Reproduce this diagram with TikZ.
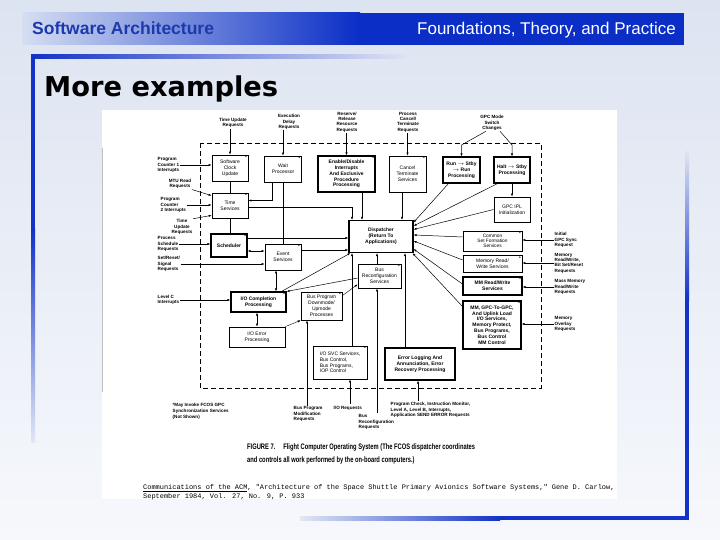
\documentclass[tikz,border=0pt]{standalone}
\usepackage{fontspec}
\setmainfont{Liberation Sans}
\newfontfamily\capfam[FakeStretch=0.72]{Liberation Sans}
\newfontfamily\citefam{Liberation Mono}
\newfontfamily\titlefam{DejaVu Sans}
\usetikzlibrary{arrows.meta}
\definecolor{bgtop}{RGB}{221,228,241}
\definecolor{bgbot}{RGB}{246,248,252}
\definecolor{hdblue}{RGB}{10,46,198}
\definecolor{hdlight}{RGB}{214,222,242}
\definecolor{hdtext}{RGB}{28,58,172}
\definecolor{frblue}{RGB}{18,50,200}
\definecolor{frfade}{RGB}{226,231,244}

\begin{document}
\begin{tikzpicture}[x=1pt,y=-1pt,
  blk/.style={draw,line width=0.7pt,fill=white,align=center,inner sep=1pt,
    font=\fontsize{5}{5.8}\selectfont},
  bblk/.style={blk,line width=1.1pt,font=\fontsize{5}{5.8}\selectfont\bfseries},
  starred/.style={label={[anchor=north east,inner sep=1.2pt,font=\fontsize{5.5}{5}\selectfont]north east:*}},
  lbl/.style={align=left,inner sep=0.5pt,font=\fontsize{4.6}{5.4}\selectfont\bfseries},
  lblc/.style={lbl,align=center},
  flow/.style={-{Latex[length=3pt,width=2.2pt]},line width=0.5pt},
  bflow/.style={{Latex[length=3pt,width=2.2pt]}-{Latex[length=3pt,width=2.2pt]},line width=0.5pt}]
  \useasboundingbox (0,0) rectangle (720,540);
  \shade[top color=bgtop,bottom color=bgbot] (0,0) rectangle (720,540);

  % slide frame
  \shade[left color=hdlight,right color=hdblue] (22,13) rectangle (360,45);
  \fill[hdblue] (359,13) rectangle (684,45);
  \node[anchor=base west,inner sep=0,text=hdtext,font=\bfseries\fontsize{17.5}{20}\selectfont] (hdl) at (32,35) {Software Architecture};
  \node[anchor=base east,inner sep=0,text=white,font=\fontsize{17}{20}\selectfont] (hdr) at (676,35) {Foundations, Theory, and Practice};
  \shade[left color=frblue,right color=frfade] (31,55) rectangle (412,59);
  \fill[frblue] (31,55) rectangle (35,230);
  \shade[top color=frblue,bottom color=frfade] (31,229) rectangle (35,442);
  \shade[top color=frfade,bottom color=frblue] (685,150) rectangle (689,300);
  \fill[frblue] (685,299) rectangle (689,520);
  \shade[left color=frfade,right color=frblue] (300,516) rectangle (500,520);
  \fill[frblue] (499,516) rectangle (689,520);
  \node[anchor=base west,inner sep=0,font=\titlefam\bfseries\fontsize{27.3}{30}\selectfont] (ttl) at (44,97) {More examples};

  % scanned figure
  \fill[white] (102,110) rectangle (617,499);
  \draw[black!25,line width=0.4pt] (102,148) -- (102,392);
  \draw[line width=0.6pt,dash pattern=on 5pt off 3pt] (200,143) rectangle (541,388);

  \node[blk,starred,minimum width=36pt,minimum height=26pt] (clock) at (230,168) {Software\\Clock\\Update};
  \node[blk,starred,minimum width=37pt,minimum height=26pt] (wait) at (283,169) {Wait\\Processor};
  \node[bblk,starred,minimum width=57pt,minimum height=36pt] (enable) at (346.5,174) {Enable/Disable\\Interrupts\\And Exclusive\\Procedure\\Processing};
  \node[blk,starred,minimum width=37pt,minimum height=36pt] (cancel) at (407.5,174) {Cancel\\Terminate\\Services};
  \node[bblk,minimum width=37pt,minimum height=26pt] (run) at (461.5,170) {Run $\rightarrow$ Stby\\$\rightarrow$ Run\\Processing};
  \node[bblk,minimum width=36pt,minimum height=26pt] (halt) at (512,170) {Halt $\rightarrow$ Stby\\Processing};
  \node[blk,starred,minimum width=36pt,minimum height=25pt] (time) at (230,205.5) {Time\\Services};
  \node[blk,minimum width=36pt,minimum height=25pt] (ipl) at (512,209.5) {GPC IPL\\Initialization};
  \node[bblk,minimum width=64pt,minimum height=32pt] (disp) at (381,236.5) {Dispatcher\\(Return To\\Applications)};
  \node[bblk,starred,minimum width=36pt,minimum height=23pt] (sched) at (229,245.5) {Scheduler};
  \node[blk,starred,minimum width=36pt,minimum height=26pt] (event) at (283,257) {Event\\Services};
  \node[blk,starred,minimum width=59pt,minimum height=20pt,font=\fontsize{4.8}{5.3}\selectfont] (common) at (492.5,241) {Common\\Set Formation\\Services};
  \node[blk,starred,minimum width=59pt,minimum height=17pt] (memrw) at (492.5,264) {Memory Read/\\Write Services};
  \node[bblk,starred,minimum width=59pt,minimum height=18pt] (mmrw) at (492.5,286) {MM Read/Write\\Services};
  \node[bblk,starred,minimum width=58pt,minimum height=48pt] (mmgpc) at (492,325) {MM, GPC-To-GPC,\\And Uplink Load\\I/O Services,\\Memory Protect,\\Bus Programs,\\Bus Control\\MM Control};
  \node[blk,starred,minimum width=43pt,minimum height=24pt] (busrec) at (379.5,276) {Bus\\Reconfiguration\\Services};
  \node[bblk,starred,minimum width=55pt,minimum height=20pt] (iocomp) at (258.5,302) {I/O Completion\\Processing};
  \node[blk,minimum width=56pt,minimum height=20pt] (ioerr) at (257,337) {I/O Error\\Processing};
  \node[blk,starred,minimum width=41pt,minimum height=28pt] (bprog) at (321.5,306) {Bus Program\\Downmode/\\Upmode\\Processes};
  \node[blk,starred,align=left,minimum width=54pt,minimum height=33pt] (iosvc) at (340,362.5) {I/O SVC Services,\\Bus Control,\\Bus Programs,\\IOP Control};
  \node[bblk,minimum width=70pt,minimum height=32pt] (errlog) at (420,364) {Error Logging And\\Annunciation, Error\\Recovery Processing};

  \node[lblc] (lTUR) at (233,123) {Time Update\\Requests};
  \node[lblc] (lEDR) at (289,122) {Execution\\Delay\\Requests};
  \node[lblc] (lRRR) at (347,122) {Reserve/\\Release\\Resource\\Requests};
  \node[lblc] (lPCT) at (408,122) {Process\\Cancel/\\Terminate\\Requests};
  \node[lblc] (lGPC) at (492,123) {GPC Mode\\Switch\\Changes};
  \node[lbl,anchor=west] (lPCone) at (157,165) {Program\\Counter 1\\Interrupts};
  \node[lblc] (lMTU) at (180,184) {MTU Read\\Requests};
  \node[lbl,anchor=west] (lPCtwo) at (160,205) {Program\\Counter\\2 Interrupts};
  \node[lblc] (lTUR2) at (182,227) {Time\\Update\\Requests};
  \node[lbl,anchor=west] (lPSR) at (157,244) {Process\\Schedule\\Requests};
  \node[lbl,anchor=west] (lSSR) at (157,264) {Set/Reset/\\Signal\\Requests};
  \node[lbl,anchor=west] (lLevC) at (157,300) {Level C\\Interrupts};
  \node[lbl,anchor=west] (lIGS) at (554,240) {Initial\\GPC Sync\\Request};
  \node[lbl,anchor=west] (lMRW) at (554,263) {Memory\\Read/Write,\\Bit Set/Reset\\Requests};
  \node[lbl,anchor=west] (lMMR) at (554,287) {Mass Memory\\Read/Write\\Requests};
  \node[lbl,anchor=west] (lMOR) at (554,324) {Memory\\Overlay\\Requests};
  \node[lbl,anchor=west] (lBPM) at (293,414) {Bus Program\\Modification\\Requests};
  \node[lbl,anchor=west] (lIOR) at (333,408) {I/O Requests};
  \node[lbl,anchor=west] (lBRR) at (358,422) {Bus\\Reconfiguration\\Requests};
  \node[lbl,anchor=west] (lPCK) at (390,410) {Program Check, Instruction Monitor,\\Level A, Level B, Interrupts,\\Application SEND ERROR Requests};
  \node[lbl,anchor=west,font=\fontsize{4.6}{6}\selectfont\bfseries] (lNote) at (172,411) {*May Invoke FCOS GPC\\Synchronization Services\\(Not Shown)};
  \coordinate (cBPM) at (307,406);
  \coordinate (cIOR) at (350,404);
  \coordinate (cBRR) at (377,413);
  \coordinate (cPCK) at (418,401);

  \draw[flow] (clock.north |- lTUR.south) -- (clock.north);
  \draw[flow] (wait.north |- lEDR.south) -- (wait.north);
  \draw[flow] (enable.north |- lRRR.south) -- (enable.north);
  \draw[flow] (cancel.north |- lPCT.south) -- (cancel.north);
  \draw[flow] ([xshift=-6pt]lGPC.south) -- (run.north |- 0,145) -- (run.north);
  \draw[flow] ([xshift=8pt]lGPC.south) -- (halt.north |- 0,145) -- (halt.north);
  \draw[flow] (lPCone.east) -- (lPCone.east -| clock.west);
  \draw[flow] (lMTU.south east) -- ([yshift=-3pt]time.north west);
  \draw[flow] (lPCtwo.east) -- (lPCtwo.east -| time.west);
  \draw[flow] (lTUR2.north east) -- ([yshift=3pt]time.south west);
  \draw[flow] (lPSR.east) -- (lPSR.east -| sched.west);
  \draw[flow] (lSSR.east) -- (lSSR.east -| event.west);
  \draw[flow] (lLevC.east) -- (lLevC.east -| iocomp.west);
  \draw[flow] (lIGS.west) -- (lIGS.west -| common.east);
  \draw[flow] (lMRW.west) -- (lMRW.west -| memrw.east);
  \draw[flow] (lMMR.west) -- (lMMR.west -| mmrw.east);
  \draw[flow] (lMOR.west) -- (lMOR.west -| mmgpc.east);
  \draw[flow] (cBPM) -- (cBPM |- bprog.south);
  \draw[flow] (cIOR) -- (cIOR |- iosvc.south);
  \draw[flow] (cBRR) -- (cBRR |- busrec.south);
  \draw[flow] (cPCK) -- (cPCK |- errlog.south);

  \draw[line width=0.5pt] (clock.south) -- (time.north);
  \draw[line width=0.5pt] (time.south) -- (time.south |- sched.north);
  \draw[line width=0.5pt] (wait.south) -- (event.north);
  \draw[flow] ([xshift=-11pt]wait.south) |- ([yshift=5pt]time.east);
  \draw[flow] ([yshift=-1.5pt]time.east) -| ([xshift=-29pt]disp.north);
  \draw[flow] ([xshift=15.5pt]enable.south) -- ([xshift=15.5pt]enable.south |- disp.north);
  \draw[flow] ([xshift=-5.5pt]cancel.south) -- ([xshift=-5.5pt]cancel.south |- disp.north);
  \draw[flow] (halt.south) -- (ipl.north);
  \draw[flow] ([yshift=7.5pt]sched.east) -- ([yshift=7.5pt]sched.east -| disp.west);
  \draw[bflow] ([yshift=-5.5pt]sched.east) -- ([yshift=-5.5pt]sched.east -| event.west);
  \draw[flow] ([yshift=7pt]event.east) -- ([yshift=7pt]event.east -| disp.west);
  \draw[bflow] ([xshift=-7pt]event.south) -- ([xshift=-7pt]event.south |- iocomp.north);
  \draw[bflow] ([xshift=-1.5pt]iocomp.south) -- ([xshift=-1.5pt]iocomp.south |- ioerr.north);
  \draw[flow] ([xshift=-5pt]iocomp.north east) -- ([xshift=2pt]disp.south west);
  \draw[flow] ([yshift=-2pt]busrec.west) -- (iocomp.north east);
  \draw[flow,line width=0.4pt] (ioerr.north east) -- (bprog.south west);
  \draw[flow,line width=0.4pt] ([yshift=-4pt]bprog.north east) -- ([yshift=4pt]busrec.south west);
  \draw[flow] ([xshift=-2.5pt]busrec.north) -- ([xshift=-2.5pt]busrec.north |- disp.south);
  \draw[flow] ([xshift=12pt]iosvc.north) -- ([xshift=12pt]iosvc.north |- disp.south);
  \draw[flow] ([xshift=-15pt]errlog.north) -- ([xshift=-15pt]errlog.north |- disp.south);
  \draw[flow] ([xshift=6pt]run.south west) -- ([yshift=-2.5pt]disp.north east);
  \draw[flow] ([xshift=4pt]halt.south west) -- ([yshift=-6pt]disp.north east);
  \draw[flow] (ipl.west) -- ([yshift=-9.5pt]disp.north east);
  \draw[flow] ([yshift=4pt]common.west) -- ([yshift=-15pt]disp.north east);
  \draw[flow] ([yshift=4pt]memrw.west) -- ([yshift=-21pt]disp.north east);
  \draw[flow] ([yshift=2pt]mmrw.west) -- ([yshift=4pt]disp.south east);
  \draw[flow] ([yshift=-6pt]mmgpc.north west) -- ([xshift=-1pt]disp.south east);

  \node[anchor=north west,align=left,inner sep=0,font=\capfam\bfseries\fontsize{8}{13}\selectfont] (cap) at (247,443.5) {FIGURE 7.\quad Flight Computer Operating System (The FCOS dispatcher coordinates\\and controls all work performed by the on-board computers.)};
  \node[anchor=west,align=left,inner sep=0,font=\citefam\fontsize{6.95}{8.5}\selectfont] (cite) at (143,492) {\underline{Communications of the ACM}, "Architecture of the Space Shuttle Primary Avionics Software Systems," Gene D. Carlow,\\September 1984, Vol. 27, No. 9, P. 933};
\end{tikzpicture}
\end{document}
